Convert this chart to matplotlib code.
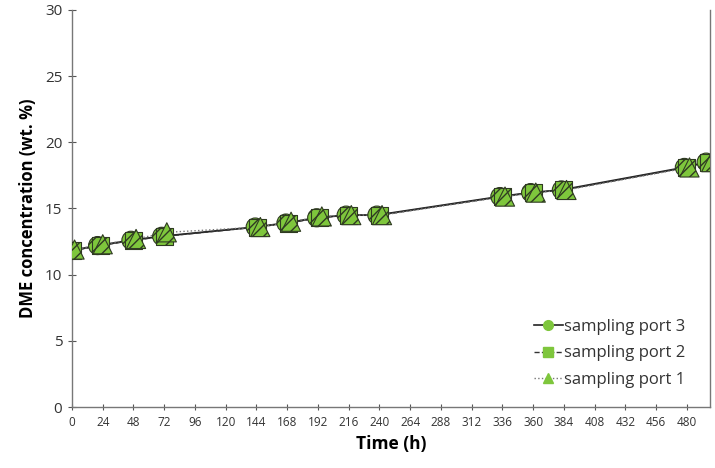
import numpy as np
import matplotlib
matplotlib.use("Agg")
import matplotlib.pyplot as plt
from matplotlib.lines import Line2D

# sampling times (h) and DME concentration (wt. %) for each port
t_port3 = [-2, 20, 46, 70, 143, 167, 191, 214, 238, 334, 358, 382, 478, 495]
port3 = [11.8, 12.2, 12.6, 12.9, 13.6, 13.9, 14.3, 14.5, 14.5, 15.9, 16.2, 16.4, 18.1, 18.5]
t_port2 = [0, 22, 48, 72, 145, 169, 193, 216, 240, 336, 360, 384, 480, 497]
port2 = [11.8, 12.2, 12.6, 12.9, 13.6, 13.9, 14.3, 14.5, 14.5, 15.9, 16.2, 16.4, 18.1, 18.5]
t_port1 = [2, 24, 50, 74, 147, 171, 195, 218, 242, 338, 362, 386, 482, 499]
port1 = [11.9, 12.3, 12.7, 13.2, 13.6, 14.0, 14.4, 14.5, 14.5, 15.9, 16.2, 16.4, 18.1, 18.5]

xticks = list(range(0, 481, 24))
yticks = [0, 5, 10, 15, 20, 25, 30]

green = "#7ec63c"
edge = "#2f3a22"
plt.rcParams["font.family"] = ["Open Sans", "DejaVu Sans"]
plt.rcParams["hatch.linewidth"] = 1.0
plt.rcParams["hatch.color"] = edge

fig = plt.figure(figsize=(7.15, 4.68), dpi=100)
ax = fig.add_axes([0.1007, 0.130, 0.8923, 0.849])

ax.plot(t_port3, port3, "-", color="#222222", lw=1.3, zorder=2)
ax.plot(t_port2, port2, "--", color="#333333", lw=1.0, zorder=2)
ax.plot(t_port1, port1, ":", color="#777777", lw=1.0, zorder=2)

ax.scatter(t_port3, port3, s=170, marker="o", facecolor=green, edgecolor=edge,
           hatch="///", linewidths=0.8, zorder=3)
ax.scatter(t_port2, port2, s=150, marker="s", facecolor=green, edgecolor=edge,
           hatch="///", linewidths=0.8, zorder=4)
ax.scatter(t_port1, port1, s=190, marker="^", facecolor=green, edgecolor=edge,
           hatch="///", linewidths=0.8, zorder=5)

ax.set_xlim(0, 498)
ax.set_ylim(0, 30)
ax.set_xticks(xticks)
ax.set_yticks(yticks)
ax.tick_params(axis="x", labelsize=8.5, direction="inout", length=5, color="#555555", pad=4)
ax.tick_params(axis="y", labelsize=11, direction="inout", length=6, color="#555555", pad=4)
for lbl in ax.get_xticklabels() + ax.get_yticklabels():
    lbl.set_color("#333333")

ax.spines["top"].set_visible(False)
for s in ["left", "bottom", "right"]:
    ax.spines[s].set_color("#777777")
    ax.spines[s].set_linewidth(1.0)

ax.set_xlabel("Time (h)", fontsize=12.5, fontweight="bold", labelpad=4)
ax.set_ylabel("DME concentration (wt. %)", fontsize=12, fontweight="bold", labelpad=6)

handles = [
    Line2D([], [], color="#222222", ls="-", lw=1.2, marker="o", ms=7,
           mfc=green, mec=green),
    Line2D([], [], color="#333333", ls="--", lw=1.0, marker="s", ms=7,
           mfc=green, mec=green),
    Line2D([], [], color="#777777", ls=":", lw=1.0, marker="^", ms=7,
           mfc=green, mec=green),
]
ax.legend(handles, ["sampling port 3", "sampling port 2", "sampling port 1"],
          loc="lower right", bbox_to_anchor=(0.985, 0.01), frameon=False,
          fontsize=12, handlelength=1.7, handletextpad=0.1, labelspacing=0.65,
          labelcolor="#333333")

fig.savefig("out.png", dpi=100)
